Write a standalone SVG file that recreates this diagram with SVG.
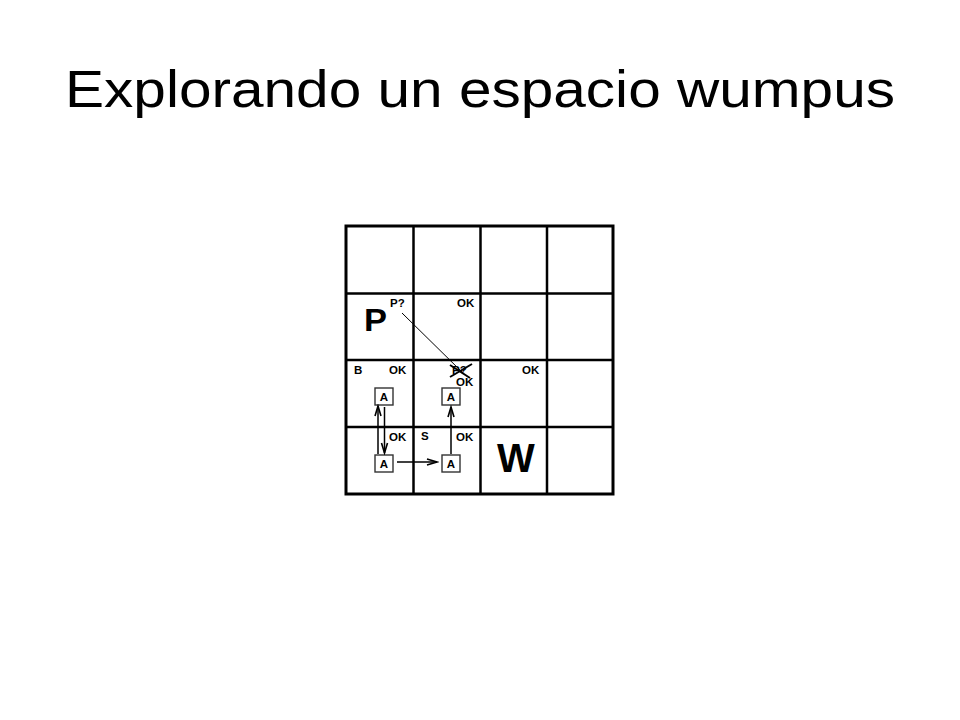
<svg xmlns="http://www.w3.org/2000/svg" width="960" height="720" viewBox="0 0 960 720">
<style>
.t{font-family:"Liberation Sans",Arial,sans-serif;font-weight:bold;font-size:11.5px;fill:#000}
.big{font-family:"Liberation Sans",Arial,sans-serif;font-weight:bold;fill:#000}
.grid{stroke:#000;stroke-width:2.5;fill:none}
.box{fill:#fff;stroke:#333;stroke-width:1.4}
.a{font-family:"Liberation Sans",Arial,sans-serif;font-weight:bold;font-size:11.5px;fill:#000;text-anchor:middle}
.arr{stroke:#000;stroke-width:1.5;fill:none;marker-end:url(#vh)}
</style>
<defs>
<marker id="vh" viewBox="-11 -5 13 10" markerWidth="13" markerHeight="10" refX="0" refY="0" orient="auto" markerUnits="userSpaceOnUse">
<path d="M-10,-3 L0,0 L-10,3" fill="none" stroke="#000" stroke-width="1.6"/>
</marker>
</defs>
<rect width="960" height="720" fill="#fff"/>
<text x="65" y="107" font-family="Liberation Sans,Arial,sans-serif" font-size="52" textLength="830" lengthAdjust="spacingAndGlyphs" fill="#000">Explorando un espacio wumpus</text>
<g id="grid">
<rect x="346" y="226" width="267" height="268" fill="none" stroke="#000" stroke-width="3"/>
<line class="grid" x1="413.5" y1="226" x2="413.5" y2="494"/>
<line class="grid" x1="480.5" y1="226" x2="480.5" y2="494"/>
<line class="grid" x1="547" y1="226" x2="547" y2="494"/>
<line class="grid" x1="346" y1="293.5" x2="613" y2="293.5"/>
<line class="grid" x1="346" y1="360" x2="613" y2="360"/>
<line class="grid" x1="346" y1="427" x2="613" y2="427"/>
</g>
<g id="labels">
<text class="t" x="390" y="307">P?</text>
<text class="t" x="457" y="307">OK</text>
<text class="big" x="364" y="331" font-size="31" textLength="23" lengthAdjust="spacingAndGlyphs">P</text>
<text class="t" x="354" y="374">B</text>
<text class="t" x="389" y="374">OK</text>
<text class="t" x="452" y="374">P?</text>
<text class="t" x="456" y="386">OK</text>
<text class="t" x="522" y="374">OK</text>
<text class="t" x="389" y="441">OK</text>
<text class="t" x="421" y="440">S</text>
<text class="t" x="456" y="441">OK</text>
<text class="big" x="497" y="472" font-size="40">W</text>
</g>
<g id="agent-1-2"><rect class="box" x="375" y="388" width="18" height="17"/><text class="a" x="384" y="401">A</text></g>
<g id="agent-2-2"><rect class="box" x="442" y="388" width="18" height="17"/><text class="a" x="451" y="401">A</text></g>
<g id="agent-1-1"><rect class="box" x="375" y="455" width="18" height="17"/><text class="a" x="384" y="468">A</text></g>
<g id="agent-2-1"><rect class="box" x="442" y="455" width="18" height="17"/><text class="a" x="451" y="468">A</text></g>
<g id="connectors">
<line class="arr" x1="378" y1="454" x2="378" y2="406"/>
<line class="arr" x1="384.5" y1="407" x2="384.5" y2="453"/>
<line class="arr" x1="397" y1="462" x2="437" y2="462"/>
<line class="arr" x1="451" y1="454" x2="451" y2="407"/>
<line x1="402" y1="313" x2="463" y2="373" stroke="#000" stroke-width="1"/>
<line x1="450" y1="365" x2="470" y2="378" stroke="#000" stroke-width="2"/>
<line x1="450" y1="377" x2="472" y2="364" stroke="#000" stroke-width="2"/>
</g>
</svg>
